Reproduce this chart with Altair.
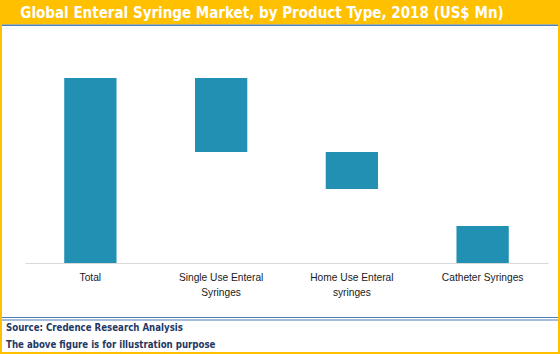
import altair as alt
import pandas as pd

categories = ["Total", "Single Use Enteral Syringes", "Home Use Enteral syringes", "Catheter Syringes"]
bar_start = [0, 60, 40, 0]
bar_end = [100, 100, 60, 20]
label_lines = {
    "Total": ["Total"],
    "Single Use Enteral Syringes": ["Single Use Enteral", "Syringes"],
    "Home Use Enteral syringes": ["Home Use Enteral", "syringes"],
    "Catheter Syringes": ["Catheter Syringes"],
}
title_text = "Global Enteral Syringe Market, by Product Type, 2018 (US$ Mn)"
footer_lines = ["Source: Credence Research Analysis", "The above figure is for illustration purpose"]

df = pd.DataFrame({"category": categories, "start": bar_start, "end": bar_end})

# plot-area geometry (pixels)
PL, PT, W, H = 25, 78, 523, 185
TOTAL_W, TOTAL_H = 560, 354

label_expr = ""
for k, v in label_lines.items():
    label_expr += f"datum.label == {k!r} ? {v!r} : "
label_expr += "datum.label"

bars = alt.Chart(df).mark_bar(color="#2290B2").encode(
    x=alt.X("category:N", sort=categories,
            scale=alt.Scale(paddingInner=0.6, paddingOuter=0.3),
            axis=alt.Axis(title=None, labelAngle=0, ticks=False, domainColor="#D9D9D9",
                          domainWidth=1, labelFontSize=10.2, labelFont="Liberation Sans",
                          labelColor="#1a1a1a", labelPadding=9, labelLineHeight=15,
                          labelExpr=label_expr, labelBaseline="top")),
    y=alt.Y("start:Q", scale=alt.Scale(domain=[0, 100], nice=False), axis=None),
    y2="end:Q",
)

one = pd.DataFrame({"a": [0]})

def rect(x0, x1, y0, y1, fill):
    return alt.Chart(one).mark_rect(color=fill).encode(
        x=alt.value(x0 - PL), x2=alt.value(x1 - PL),
        y=alt.value(y0 - PT), y2=alt.value(y1 - PT))

def text(s, x, y, size, color, align="left", font="DejaVu Sans Condensed"):
    return alt.Chart(one).mark_text(align=align, baseline="alphabetic", fontSize=size,
                                    fontWeight="bold", font=font, color=color).encode(
        x=alt.value(x - PL), y=alt.value(y - PT), text=alt.value(s))

gold = "#FFC000"
blue = "#4F7FBA"
layers = [
    rect(0, 560, 0, 24.5, gold),
    rect(2, 558, 24.5, 26, blue),
    rect(0, 2, 0, 354, gold),
    rect(558, 560, 0, 354, gold),
    rect(0, 560, 352, 354, gold),
    rect(2, 558, 317, 318, blue),
    rect(2, 558, 319.5, 320.5, blue),
    text(title_text, 262, 17.5, 15, "white", align="center"),
    text(footer_lines[0], 6, 331, 9.6, "#1F3864"),
    text(footer_lines[1], 6, 348, 9.6, "#1F3864"),
    bars,
]

chart = alt.layer(*layers).properties(
    width=W, height=H,
    padding={"left": PL, "top": PT, "right": TOTAL_W - PL - W, "bottom": TOTAL_H - PT - H},
    autosize=alt.AutoSizeParams(type="none"),
    background="white",
).configure_view(stroke=None)

chart.save("out.html", embed_options={"renderer": "svg", "actions": False})
